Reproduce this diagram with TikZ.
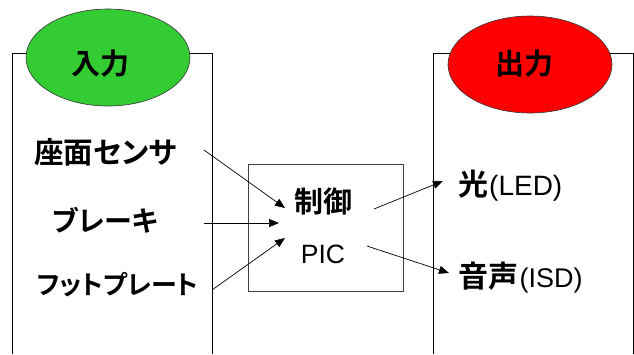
\documentclass[tikz,border=0pt]{standalone}
\usepackage{fontspec}
\usetikzlibrary{shapes.geometric,arrows.meta}
\setmainfont{Liberation Sans}
\newfontfamily\jpb[RawFeature=+palt]{Noto Sans CJK JP Bold}
\begin{document}
\begin{tikzpicture}[x=1pt,y=-1pt,
  panel/.style={draw=black,line width=0.8pt},
  badge/.style={ellipse,draw=black!80,line width=0.6pt,minimum width=164pt,minimum height=97pt,inner sep=0pt},
  jtitle/.style={inner sep=0pt,font=\jpb\fontsize{29}{32}\selectfont},
  lbl/.style={inner sep=0pt,font=\jpb\fontsize{28}{32}\selectfont},
  rlbl/.style={inner sep=0pt,anchor=base west,font=\jpb\fontsize{30}{32}\selectfont},
  ctl/.style={draw=black!75,line width=0.8pt},
  arr/.style={line width=0.7pt,-{Triangle[length=10pt,width=8pt]}}]
\useasboundingbox (0,0) rectangle (634,354);
% panels
\draw[panel] (12,354) -- (12,53) -- (212,53) -- (212,354);
\draw[panel] (433,354) -- (433,53) -- (633,53) -- (633,354);
\node[badge,fill={rgb,255:red,51;green,204;blue,51}] (in) at (108,57.5) {};
\node[jtitle] (intext) at (100.5,63.5) {入力};
\node[badge,fill={rgb,255:red,255;green,0;blue,0}] (out) at (530,64.5) {};
\node[jtitle] (outtext) at (524.5,63.5) {出力};
% control box
\node[ctl,minimum width=155pt,minimum height=127pt,inner sep=0pt] (box) at (325.5,227.5) {};
\node[jtitle] (seigyo) at (323,201.5) {制御};
\node[inner sep=0pt,font=\fontsize{26.5}{30}\selectfont] (pic) at (323,254.5) {PIC};
% left labels
\node[lbl,font=\jpb\fontsize{29.5}{32}\selectfont] (seat) at (105.5,152.5) {座面センサ};
\node[lbl] (brake) at (105,220) {ブレーキ};
\node[lbl,font=\jpb\fontsize{26}{32}\selectfont] (foot) at (117.5,285) {フットプレート};
% right labels
\node[rlbl] (led) at (458,195) {光\hspace{1pt}\fontsize{28}{30}\rmfamily(LED)};
\node[rlbl] (isd) at (458,287.5) {音声\hspace{1.5pt}\fontsize{27}{30}\rmfamily(ISD)};
% arrow endpoints
\coordinate (s1) at (204,150);
\coordinate (e1) at (285,208);
\coordinate (s2) at (204,223);
\coordinate (e2) at (279,223);
\coordinate (s3) at (212,290);
\coordinate (e3) at (285,238);
\coordinate (s4) at (374,209);
\coordinate (e4) at (443,181);
\coordinate (s5) at (367,246);
\coordinate (e5) at (449,273);
\draw[arr] (s1) -- (e1);
\draw[arr] (s2) -- (e2);
\draw[arr] (s3) -- (e3);
\draw[arr] (s4) -- (e4);
\draw[arr] (s5) -- (e5);
\end{tikzpicture}
\end{document}
